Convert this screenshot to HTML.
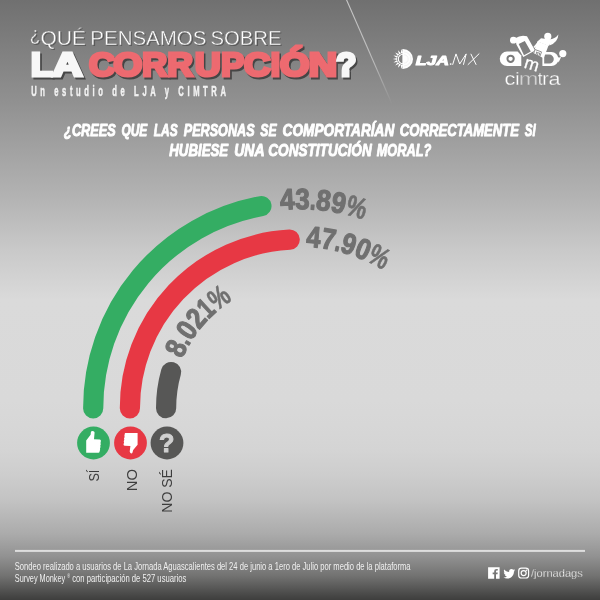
<!DOCTYPE html>
<html lang="es"><head><meta charset="utf-8"><title>¿Qué pensamos sobre la corrupción?</title>
<style>
html,body{margin:0;padding:0;background:#d9d9d9;}
body{width:600px;height:600px;overflow:hidden;font-family:"Liberation Sans",sans-serif;}
svg{display:block;will-change:transform;}
</style></head><body>
<svg width="600" height="600" viewBox="0 0 600 600">
<defs>
<linearGradient id="bg" x1="0" y1="0" x2="0" y2="1">
<stop offset="0.0000" stop-color="#707070"/>
<stop offset="0.1667" stop-color="#909090"/>
<stop offset="0.3333" stop-color="#b4b4b4"/>
<stop offset="0.4167" stop-color="#c9c9c9"/>
<stop offset="0.5000" stop-color="#dadada"/>
<stop offset="0.6667" stop-color="#d9d9d9"/>
<stop offset="0.7083" stop-color="#d7d7d7"/>
<stop offset="0.7500" stop-color="#d4d4d4"/>
<stop offset="0.7917" stop-color="#cdcdcd"/>
<stop offset="0.8333" stop-color="#c3c3c3"/>
<stop offset="0.8900" stop-color="#ababab"/>
<stop offset="0.9267" stop-color="#929292"/>
<stop offset="0.9600" stop-color="#727271"/>
<stop offset="0.9933" stop-color="#464645"/>
<stop offset="1.0000" stop-color="#3e3e3d"/>
</linearGradient>
<linearGradient id="diag" gradientUnits="userSpaceOnUse" x1="346" y1="0" x2="392" y2="104">
<stop offset="0" stop-color="#fff" stop-opacity="0.62"/><stop offset="0.6" stop-color="#fff" stop-opacity="0.45"/><stop offset="1" stop-color="#fff" stop-opacity="0"/>
</linearGradient>
</defs>
<rect width="600" height="600" fill="url(#bg)"/>

<!-- header -->
<line x1="346.4" y1="-0.5" x2="392" y2="104" stroke="url(#diag)" stroke-width="1.1"/>
<text transform="translate(30.97,42.45) scale(0.8317,1)" font-family="Liberation Sans, sans-serif"  font-size="20.9" fill="#3a3a3a" opacity="0.55">¿</text><text transform="translate(41.61,46.00) scale(1.0018,1)" font-family="Liberation Sans, sans-serif"  font-size="20.9" fill="#3a3a3a" opacity="0.55">QUÉ</text><text transform="translate(91.41,46.00) scale(0.9807,1)" font-family="Liberation Sans, sans-serif"  font-size="20.9" fill="#3a3a3a" opacity="0.55">PENSAMOS</text><text transform="translate(211.69,46.00) scale(0.9695,1)" font-family="Liberation Sans, sans-serif"  font-size="20.9" fill="#3a3a3a" opacity="0.55">SOBRE</text>
<text transform="translate(29.87,41.35) scale(0.8317,1)" font-family="Liberation Sans, sans-serif"  font-size="20.9" fill="#fff" stroke="#7b7b7b" stroke-width="0.45">¿</text><text transform="translate(40.51,44.90) scale(1.0018,1)" font-family="Liberation Sans, sans-serif"  font-size="20.9" fill="#fff" stroke="#7b7b7b" stroke-width="0.45">QUÉ</text><text transform="translate(90.31,44.90) scale(0.9807,1)" font-family="Liberation Sans, sans-serif"  font-size="20.9" fill="#fff" stroke="#7b7b7b" stroke-width="0.45">PENSAMOS</text><text transform="translate(210.59,44.90) scale(0.9695,1)" font-family="Liberation Sans, sans-serif"  font-size="20.9" fill="#fff" stroke="#7b7b7b" stroke-width="0.45">SOBRE</text>
<g opacity="0.85"><text transform="translate(32.63,77.50) scale(1.0579,1)" font-family="Liberation Sans, sans-serif" font-weight="bold" font-size="33.2" fill="#3b3b3b" stroke="#3b3b3b" stroke-width="3.2" stroke-linejoin="miter" stroke-miterlimit="3" >L</text><text transform="translate(54.16,77.50) scale(1.2498,1)" font-family="Liberation Sans, sans-serif" font-weight="bold" font-size="33.2" fill="#3b3b3b" stroke="#3b3b3b" stroke-width="3.2" stroke-linejoin="miter" stroke-miterlimit="3" >A</text><text transform="translate(90.56,77.50) scale(1.0807,1)" font-family="Liberation Sans, sans-serif" font-weight="bold" font-size="33.2" fill="#3b3b3b" stroke="#3b3b3b" stroke-width="3.2" stroke-linejoin="miter" stroke-miterlimit="3" >C</text><text transform="translate(115.22,77.50) scale(1.1181,1)" font-family="Liberation Sans, sans-serif" font-weight="bold" font-size="33.2" fill="#3b3b3b" stroke="#3b3b3b" stroke-width="3.2" stroke-linejoin="miter" stroke-miterlimit="3" >O</text><text transform="translate(143.87,77.50) scale(1.0381,1)" font-family="Liberation Sans, sans-serif" font-weight="bold" font-size="33.2" fill="#3b3b3b" stroke="#3b3b3b" stroke-width="3.2" stroke-linejoin="miter" stroke-miterlimit="3" >R</text><text transform="translate(169.02,77.50) scale(1.0620,1)" font-family="Liberation Sans, sans-serif" font-weight="bold" font-size="33.2" fill="#3b3b3b" stroke="#3b3b3b" stroke-width="3.2" stroke-linejoin="miter" stroke-miterlimit="3" >R</text><text transform="translate(196.57,77.50) scale(1.0693,1)" font-family="Liberation Sans, sans-serif" font-weight="bold" font-size="33.2" fill="#3b3b3b" stroke="#3b3b3b" stroke-width="3.2" stroke-linejoin="miter" stroke-miterlimit="3" >U</text><text transform="translate(222.89,77.50) scale(1.0289,1)" font-family="Liberation Sans, sans-serif" font-weight="bold" font-size="33.2" fill="#3b3b3b" stroke="#3b3b3b" stroke-width="3.2" stroke-linejoin="miter" stroke-miterlimit="3" >P</text><text transform="translate(245.53,77.50) scale(1.1037,1)" font-family="Liberation Sans, sans-serif" font-weight="bold" font-size="33.2" fill="#3b3b3b" stroke="#3b3b3b" stroke-width="3.2" stroke-linejoin="miter" stroke-miterlimit="3" >C</text><text transform="translate(272.33,77.50) scale(1.0146,1)" font-family="Liberation Sans, sans-serif" font-weight="bold" font-size="33.2" fill="#3b3b3b" stroke="#3b3b3b" stroke-width="3.2" stroke-linejoin="miter" stroke-miterlimit="3" >I</text><text transform="translate(281.69,77.50) scale(1.1398,1)" font-family="Liberation Sans, sans-serif" font-weight="bold" font-size="33.2" fill="#3b3b3b" stroke="#3b3b3b" stroke-width="3.2" stroke-linejoin="miter" stroke-miterlimit="3" >Ó</text><text transform="translate(310.25,77.50) scale(1.1843,1)" font-family="Liberation Sans, sans-serif" font-weight="bold" font-size="33.2" fill="#3b3b3b" stroke="#3b3b3b" stroke-width="3.2" stroke-linejoin="miter" stroke-miterlimit="3" >N</text><text transform="translate(337.84,77.50) scale(0.9901,1)" font-family="Liberation Sans, sans-serif" font-weight="bold" font-size="33.2" fill="#3b3b3b" stroke="#3b3b3b" stroke-width="3.2" stroke-linejoin="miter" stroke-miterlimit="3" >?</text></g>
<g><text transform="translate(31.03,75.90) scale(1.0579,1)" font-family="Liberation Sans, sans-serif" font-weight="bold" font-size="33.2" fill="#f7f7f7" stroke="#f7f7f7" stroke-width="3.2" stroke-linejoin="miter" stroke-miterlimit="3" >L</text><text transform="translate(52.56,75.90) scale(1.2498,1)" font-family="Liberation Sans, sans-serif" font-weight="bold" font-size="33.2" fill="#f7f7f7" stroke="#f7f7f7" stroke-width="3.2" stroke-linejoin="miter" stroke-miterlimit="3" >A</text><text transform="translate(88.96,75.90) scale(1.0807,1)" font-family="Liberation Sans, sans-serif" font-weight="bold" font-size="33.2" fill="#ed6a70" stroke="#ed6a70" stroke-width="3.2" stroke-linejoin="miter" stroke-miterlimit="3" >C</text><text transform="translate(113.62,75.90) scale(1.1181,1)" font-family="Liberation Sans, sans-serif" font-weight="bold" font-size="33.2" fill="#ed6a70" stroke="#ed6a70" stroke-width="3.2" stroke-linejoin="miter" stroke-miterlimit="3" >O</text><text transform="translate(142.27,75.90) scale(1.0381,1)" font-family="Liberation Sans, sans-serif" font-weight="bold" font-size="33.2" fill="#ed6a70" stroke="#ed6a70" stroke-width="3.2" stroke-linejoin="miter" stroke-miterlimit="3" >R</text><text transform="translate(167.42,75.90) scale(1.0620,1)" font-family="Liberation Sans, sans-serif" font-weight="bold" font-size="33.2" fill="#ed6a70" stroke="#ed6a70" stroke-width="3.2" stroke-linejoin="miter" stroke-miterlimit="3" >R</text><text transform="translate(194.97,75.90) scale(1.0693,1)" font-family="Liberation Sans, sans-serif" font-weight="bold" font-size="33.2" fill="#ed6a70" stroke="#ed6a70" stroke-width="3.2" stroke-linejoin="miter" stroke-miterlimit="3" >U</text><text transform="translate(221.29,75.90) scale(1.0289,1)" font-family="Liberation Sans, sans-serif" font-weight="bold" font-size="33.2" fill="#ed6a70" stroke="#ed6a70" stroke-width="3.2" stroke-linejoin="miter" stroke-miterlimit="3" >P</text><text transform="translate(243.93,75.90) scale(1.1037,1)" font-family="Liberation Sans, sans-serif" font-weight="bold" font-size="33.2" fill="#ed6a70" stroke="#ed6a70" stroke-width="3.2" stroke-linejoin="miter" stroke-miterlimit="3" >C</text><text transform="translate(270.73,75.90) scale(1.0146,1)" font-family="Liberation Sans, sans-serif" font-weight="bold" font-size="33.2" fill="#ed6a70" stroke="#ed6a70" stroke-width="3.2" stroke-linejoin="miter" stroke-miterlimit="3" >I</text><text transform="translate(280.09,75.90) scale(1.1398,1)" font-family="Liberation Sans, sans-serif" font-weight="bold" font-size="33.2" fill="#ed6a70" stroke="#ed6a70" stroke-width="3.2" stroke-linejoin="miter" stroke-miterlimit="3" >Ó</text><text transform="translate(308.65,75.90) scale(1.1843,1)" font-family="Liberation Sans, sans-serif" font-weight="bold" font-size="33.2" fill="#ed6a70" stroke="#ed6a70" stroke-width="3.2" stroke-linejoin="miter" stroke-miterlimit="3" >N</text><text transform="translate(336.24,75.90) scale(0.9901,1)" font-family="Liberation Sans, sans-serif" font-weight="bold" font-size="33.2" fill="#f7f7f7" stroke="#f7f7f7" stroke-width="3.2" stroke-linejoin="miter" stroke-miterlimit="3" >?</text></g>
<text transform="translate(31.17,95.50) scale(0.5000,1)" font-family="Liberation Sans, sans-serif" font-weight="bold" font-size="15.2" fill="#f2f2f2" stroke="#f2f2f2" stroke-width="0.5" stroke-linejoin="round" letter-spacing="7.238" >Un estudio de LJA y CIMTRA</text>
<!-- lja logo -->
<path d="M403.05 53.00L401.23 48.95L400.90 53.38ZM401.00 53.34L397.90 50.17L399.10 54.44ZM399.18 54.37L395.19 52.44L397.78 56.05ZM397.83 55.95L393.42 55.51L397.08 58.01ZM397.10 57.91L392.80 59.00L397.10 60.09ZM397.08 59.99L393.42 62.49L397.83 62.05ZM397.78 61.95L395.19 65.56L399.18 63.63ZM399.10 63.56L397.90 67.83L401.00 64.66ZM400.90 64.62L401.23 69.05L403.05 65.00Z" fill="#fff"/>
<path d="M403.0 54.3 A4.7 4.7 0 0 0 403.0 63.7" fill="none" stroke="#fff" stroke-width="1.1"/>
<path d="M402.4 49.0 L403.0 49.0 A10 10 0 0 1 403.0 69.0 L402.4 69.0 Z" fill="#fdfdfd"/>
<path d="M404.0 52.0 A7 7 0 0 1 404.0 66.0 M404.0 54.8 A4.2 4.2 0 0 1 404.0 63.2" fill="none" stroke="#e4e4e4" stroke-width="0.5"/>
<text transform="translate(415.79,64.50) scale(1.3977,1)" font-family="Liberation Sans, sans-serif" font-weight="bold" font-style="italic" font-size="12.6" fill="#fff" stroke="#fff" stroke-width="1.0" stroke-linejoin="round" >LJA</text>
<rect x="449.9" y="63.3" width="1.5" height="1.5" fill="#fff"/>
<g fill="none" stroke="#fff" stroke-width="1.0" stroke-linejoin="miter"><path d="M452.6 64.8 L456 53.9 L459.7 64 L466.2 53.9 L463.4 64.8"/><path d="M467.8 64.8 L479.3 53.5 M470.8 53.8 L476.2 64.8"/></g>
<!-- cimtra logo -->
<g fill="#fff">
<circle cx="513.4" cy="40.2" r="3.4"/><circle cx="547.8" cy="36.4" r="3.6"/><circle cx="562.8" cy="53.6" r="3.6"/>
<path fill-rule="evenodd" d="M515.3 38.3 Q520.6 34.4 527 36.2 L535 50.6 L523.3 57 L516.4 44.6 Z M518.7 44 L524.8 41 L530.8 51.5 L524 55.2 Z"/>
<path d="M541.6 37.6 L533.4 46.9 L534.9 48 L539 42.4 Z"/>
<path d="M541.4 38.2 L552.2 40 L548.6 45.9 L537.4 41.6 Z"/>
<path d="M549 39.4 Q554.6 39.6 558.4 34.6 Q558 42.6 549.4 45.6 Z"/>
<path d="M537.5 41.3 L548.5 45.6 L543.7 58.3 L533.3 52.9 Z"/>
</g>
<path d="M534.9 49.5 L541.5 51.9 L539.9 56.5 L533.7 53.8 Z" fill="#fff" stroke="#767676" stroke-width="0.8"/>
<text transform="translate(535.2,54.0) rotate(21)" font-family="Liberation Sans, sans-serif" font-size="5.2" font-weight="bold" fill="#707070">m</text>
<path d="M507 51.6 L517.6 51.6 L521.3 55.4 L521.3 66 L507 66 A7.2 7.2 0 0 1 507 51.6 Z" fill="#fff"/>
<circle cx="510.6" cy="58.8" r="3.15" fill="none" stroke="#7a7a7a" stroke-width="2"/>
<path d="M542.4 52 L551.4 52 A7 7 0 0 1 551.4 66 L542.4 66 Z M544.2 54.6 L544.2 63.6 L549.3 63.6 A4.5 4.5 0 0 0 549.3 54.6 Z" fill="#fff" fill-rule="evenodd"/>
<path d="M556.4 56.6 Q559.6 58.6 561.4 56.6 L558.6 62.4 Z" fill="#fff"/>
<text transform="translate(523.3,67.4) rotate(17)" font-family="Liberation Sans, sans-serif" font-size="17.5" fill="#fff" stroke="#fff" stroke-width="0.3">m</text>
<text transform="translate(504.57,84.80) scale(1.2145,1)" font-family="Liberation Sans, sans-serif"  font-size="18" fill="#fff" opacity="1" stroke="#8a8a8a" stroke-width="0.28">c</text>
<text transform="translate(515.19,84.80) scale(1.0794,1)" font-family="Liberation Sans, sans-serif"  font-size="18" fill="#fff" opacity="1" stroke="#8a8a8a" stroke-width="0.28">i</text>
<text transform="translate(518.81,84.80) scale(1.3095,1)" font-family="Liberation Sans, sans-serif"  font-size="18" fill="#fff" opacity="0.62" stroke="#8a8a8a" stroke-width="0.28">m</text>
<text transform="translate(537.74,84.80) scale(0.9586,1)" font-family="Liberation Sans, sans-serif"  font-size="18" fill="#fff" opacity="1" stroke="#8a8a8a" stroke-width="0.28">t</text>
<text transform="translate(542.30,84.80) scale(1.0667,1)" font-family="Liberation Sans, sans-serif"  font-size="18" fill="#fff" opacity="1" stroke="#8a8a8a" stroke-width="0.28">r</text>
<text transform="translate(548.58,84.80) scale(1.2033,1)" font-family="Liberation Sans, sans-serif"  font-size="18" fill="#fff" opacity="1" stroke="#8a8a8a" stroke-width="0.28">a</text>
<!-- question -->
<text transform="translate(64.12,136.40) scale(0.7370,1)" font-family="Liberation Sans, sans-serif" font-weight="bold" font-style="italic" font-size="17.3" fill="#fff" stroke="#fff" stroke-width="0.95" stroke-linejoin="round" >¿CREES</text>
<text transform="translate(121.38,136.40) scale(0.6893,1)" font-family="Liberation Sans, sans-serif" font-weight="bold" font-style="italic" font-size="17.3" fill="#fff" stroke="#fff" stroke-width="0.95" stroke-linejoin="round" >QUE</text>
<text transform="translate(153.77,136.40) scale(0.6901,1)" font-family="Liberation Sans, sans-serif" font-weight="bold" font-style="italic" font-size="17.3" fill="#fff" stroke="#fff" stroke-width="0.95" stroke-linejoin="round" >LAS</text>
<text transform="translate(183.75,136.40) scale(0.7302,1)" font-family="Liberation Sans, sans-serif" font-weight="bold" font-style="italic" font-size="17.3" fill="#fff" stroke="#fff" stroke-width="0.95" stroke-linejoin="round" >PERSONAS</text>
<text transform="translate(260.32,136.40) scale(0.7099,1)" font-family="Liberation Sans, sans-serif" font-weight="bold" font-style="italic" font-size="17.3" fill="#fff" stroke="#fff" stroke-width="0.95" stroke-linejoin="round" >SE</text>
<text transform="translate(282.59,136.40) scale(0.7888,1)" font-family="Liberation Sans, sans-serif" font-weight="bold" font-style="italic" font-size="17.3" fill="#fff" stroke="#fff" stroke-width="0.95" stroke-linejoin="round" >COMPORTARÍAN</text>
<text transform="translate(399.82,136.40) scale(0.7589,1)" font-family="Liberation Sans, sans-serif" font-weight="bold" font-style="italic" font-size="17.3" fill="#fff" stroke="#fff" stroke-width="0.95" stroke-linejoin="round" >CORRECTAMENTE</text>
<text transform="translate(524.83,136.40) scale(0.6723,1)" font-family="Liberation Sans, sans-serif" font-weight="bold" font-style="italic" font-size="17.3" fill="#fff" stroke="#fff" stroke-width="0.95" stroke-linejoin="round" >SI</text>
<text transform="translate(169.24,156.40) scale(0.7666,1)" font-family="Liberation Sans, sans-serif" font-weight="bold" font-style="italic" font-size="17.3" fill="#fff" stroke="#fff" stroke-width="0.95" stroke-linejoin="round" >HUBIESE</text>
<text transform="translate(234.17,156.40) scale(0.8100,1)" font-family="Liberation Sans, sans-serif" font-weight="bold" font-style="italic" font-size="17.3" fill="#fff" stroke="#fff" stroke-width="0.95" stroke-linejoin="round" >UNA</text>
<text transform="translate(268.30,156.40) scale(0.7858,1)" font-family="Liberation Sans, sans-serif" font-weight="bold" font-style="italic" font-size="17.3" fill="#fff" stroke="#fff" stroke-width="0.95" stroke-linejoin="round" >CONSTITUCIÓN</text>
<text transform="translate(376.75,156.40) scale(0.7373,1)" font-family="Liberation Sans, sans-serif" font-weight="bold" font-style="italic" font-size="17.3" fill="#fff" stroke="#fff" stroke-width="0.95" stroke-linejoin="round" >MORAL?</text>
<!-- chart -->
<g fill="none" stroke-linecap="round" stroke-width="20.2">
<path d="M93.20 408.36 A205.3 205.3 0 0 1 261.44 206.07" stroke="#34ad63"/>
<path d="M129.90 408.29 A168.6 168.6 0 0 1 289.68 239.63" stroke="#e73844"/>
<path d="M166.10 408.23 A132.4 132.4 0 0 1 171.07 372.06" stroke="#575756"/>
</g>
<g font-family="Liberation Sans, sans-serif" font-weight="bold" font-size="29.3" fill="#707070" stroke="#707070" stroke-width="1.2" stroke-linejoin="round"><text transform="translate(287.72,209.29) rotate(-3.11) scale(0.8930,1)" text-anchor="middle">4</text><text transform="translate(302.27,209.04) rotate(1.08) scale(0.8930,1)" text-anchor="middle">3</text><text transform="translate(312.44,209.49) rotate(4.02) scale(0.7150,1)" text-anchor="middle">.</text><text transform="translate(322.58,210.46) rotate(6.95) scale(0.8930,1)" text-anchor="middle">8</text><text transform="translate(336.95,212.75) rotate(11.14) scale(0.8930,1)" text-anchor="middle">9</text><text transform="translate(353.91,216.87) rotate(16.17) scale(0.7820,1)" text-anchor="middle" stroke-width="0.66">%</text></g>
<g font-family="Liberation Sans, sans-serif" font-weight="bold" font-size="29.3" fill="#707070" stroke="#707070" stroke-width="1.2" stroke-linejoin="round"><text transform="translate(312.88,247.04) rotate(5.11) scale(0.8676,1)" text-anchor="middle">4</text><text transform="translate(326.89,248.91) rotate(10.12) scale(0.8676,1)" text-anchor="middle">7</text><text transform="translate(336.58,250.95) rotate(13.63) scale(0.6947,1)" text-anchor="middle">.</text><text transform="translate(346.12,253.57) rotate(17.14) scale(0.8676,1)" text-anchor="middle">9</text><text transform="translate(359.43,258.33) rotate(22.15) scale(0.8676,1)" text-anchor="middle">0</text><text transform="translate(374.78,265.53) rotate(28.16) scale(0.7597,1)" text-anchor="middle" stroke-width="0.66">%</text></g>
<g font-family="Liberation Sans, sans-serif" font-weight="bold" font-size="29.3" fill="#707070" stroke="#707070" stroke-width="1.2" stroke-linejoin="round"><text transform="translate(184.97,352.66) rotate(-64.01) scale(0.8618,1)" text-anchor="middle">8</text><text transform="translate(189.61,344.00) rotate(-59.56) scale(0.6900,1)" text-anchor="middle">.</text><text transform="translate(194.92,335.73) rotate(-55.10) scale(0.8618,1)" text-anchor="middle">0</text><text transform="translate(203.58,324.68) rotate(-48.73) scale(0.8618,1)" text-anchor="middle">2</text><text transform="translate(212.58,315.43) rotate(-42.87) scale(0.7239,1)" text-anchor="middle">1</text><text transform="translate(224.74,305.47) rotate(-35.73) scale(0.7546,1)" text-anchor="middle" stroke-width="0.66">%</text></g>
<!-- icons -->
<circle cx="93.5" cy="443" r="16.4" fill="#34ad63"/>
<path transform="translate(93.5,443)" fill="#fff" d="M-7.3 9.7 L-7.3 -2.4 L-2.9 -8.2 L-2.6 -10.9 Q-2.4 -12.1 -0.9 -12.1 Q1 -12.1 1.1 -10.6 L0.5 -3.8 L6.3 -3.6 Q7.5 -3.4 7.4 -2 L7 0 L7.3 1.2 L6.8 2.6 L7 4 L6.5 5.4 L6.6 6.8 L6.1 8.4 Q5.9 9.7 5 9.7 Z"/>
<circle cx="130.5" cy="443" r="16.4" fill="#e73844"/>
<path transform="translate(130.5,443)" fill="#fff" d="M-5.2 -9.9 L7.1 -9.9 L7.1 1.8 L2.7 7.1 L2 9.6 Q1.7 10.5 0.9 10.5 Q-0.3 10.5 -0.8 8.6 L-0.1 3 L-5.9 2.8 Q-7.1 2.6 -7 1.2 L-6.4 -0.4 L-6.8 -1.8 L-6.2 -3.2 L-6.5 -4.6 L-5.9 -6 L-6.1 -7.4 L-5.8 -8.8 Q-5.7 -9.9 -5.2 -9.9 Z"/>
<circle cx="167" cy="443" r="16.4" fill="#575756"/>
<text x="166.7" y="451.7" font-family="Liberation Sans, sans-serif" font-weight="bold" font-size="25.2" fill="#d0d0d0" stroke="#d0d0d0" stroke-width="1.0" stroke-linejoin="round" text-anchor="middle">?</text>
<text transform="translate(98.5,481.57) rotate(-90) scale(0.8279,1)" font-family="Liberation Sans, sans-serif" font-size="15.3" fill="#3d3d3d">SÍ</text>
<text transform="translate(136.5,491.23) rotate(-90) scale(0.9732,1)" font-family="Liberation Sans, sans-serif" font-size="15.3" fill="#3d3d3d">NO</text>
<text transform="translate(172.0,512.66) rotate(-90) scale(0.9167,1)" font-family="Liberation Sans, sans-serif" font-size="15.3" fill="#3d3d3d">NO SÉ</text>
<!-- footer -->
<rect x="15" y="549.9" width="570" height="2" fill="#dedede"/>
<text transform="translate(14.76,569.60) scale(0.7449,1)" font-family="Liberation Sans, sans-serif"  font-size="10.2" fill="#f0f0f0" >Sondeo realizado a usuarios de La Jornada Aguascalientes del 24 de junio a 1ero de Julio por medio de la plataforma</text>
<text transform="translate(14.77,581.60) scale(0.7190,1)" font-family="Liberation Sans, sans-serif"  font-size="10.2" fill="#f0f0f0" >Survey Monkey</text>
<text transform="translate(67.24,577.90) scale(0.7660,1)" font-family="Liberation Sans, sans-serif"  font-size="5.0" fill="#f0f0f0" >®</text>
<text transform="translate(72.17,581.60) scale(0.7520,1)" font-family="Liberation Sans, sans-serif"  font-size="10.2" fill="#f0f0f0" >con participación de 527 usuarios</text>
<g fill="#fff">
<path d="M488.1 567.3 h11.5 v11.4 h-3.6 v-4.4 h1.5 l0.25 -1.8 h-1.75 v-1.1 q0 -0.8 0.85 -0.8 h0.95 v-1.6 q-0.7 -0.1 -1.4 -0.1 q-2.2 0 -2.2 2.2 v1.4 h-1.55 v1.8 h1.55 v4.4 h-6.1 z"/>
<path transform="translate(503.4,567.9) scale(0.49)" d="M23.95 4.57a10 10 0 0 1-2.82.77 4.96 4.96 0 0 0 2.16-2.72c-.95.55-2 .96-3.13 1.18a4.92 4.92 0 0 0-8.38 4.48C7.69 8.1 4.07 6.13 1.64 3.16a4.82 4.82 0 0 0-.67 2.48c0 1.71.87 3.21 2.19 4.1a4.9 4.9 0 0 1-2.23-.62v.06a4.93 4.93 0 0 0 3.95 4.83 4.96 4.96 0 0 1-2.21.08 4.94 4.94 0 0 0 4.6 3.42A9.87 9.87 0 0 1 0 19.54a13.94 13.94 0 0 0 7.55 2.21c9.05 0 14-7.5 14-13.98 0-.21 0-.42-.02-.63a9.94 9.94 0 0 0 2.46-2.55z"/>
</g>
<g fill="none" stroke="#fff" stroke-width="1.2"><rect x="518.7" y="568.1" width="9.9" height="9.9" rx="2.8"/><circle cx="523.65" cy="573.05" r="2.5"/></g><circle cx="526.5" cy="570.2" r="0.75" fill="#fff"/>
<text transform="translate(531.00,577.00) scale(0.9662,1)" font-family="Liberation Sans, sans-serif"  font-size="11.5" fill="#fff" stroke="#757574" stroke-width="0.3">/jornadags</text>
</svg>
</body></html>
